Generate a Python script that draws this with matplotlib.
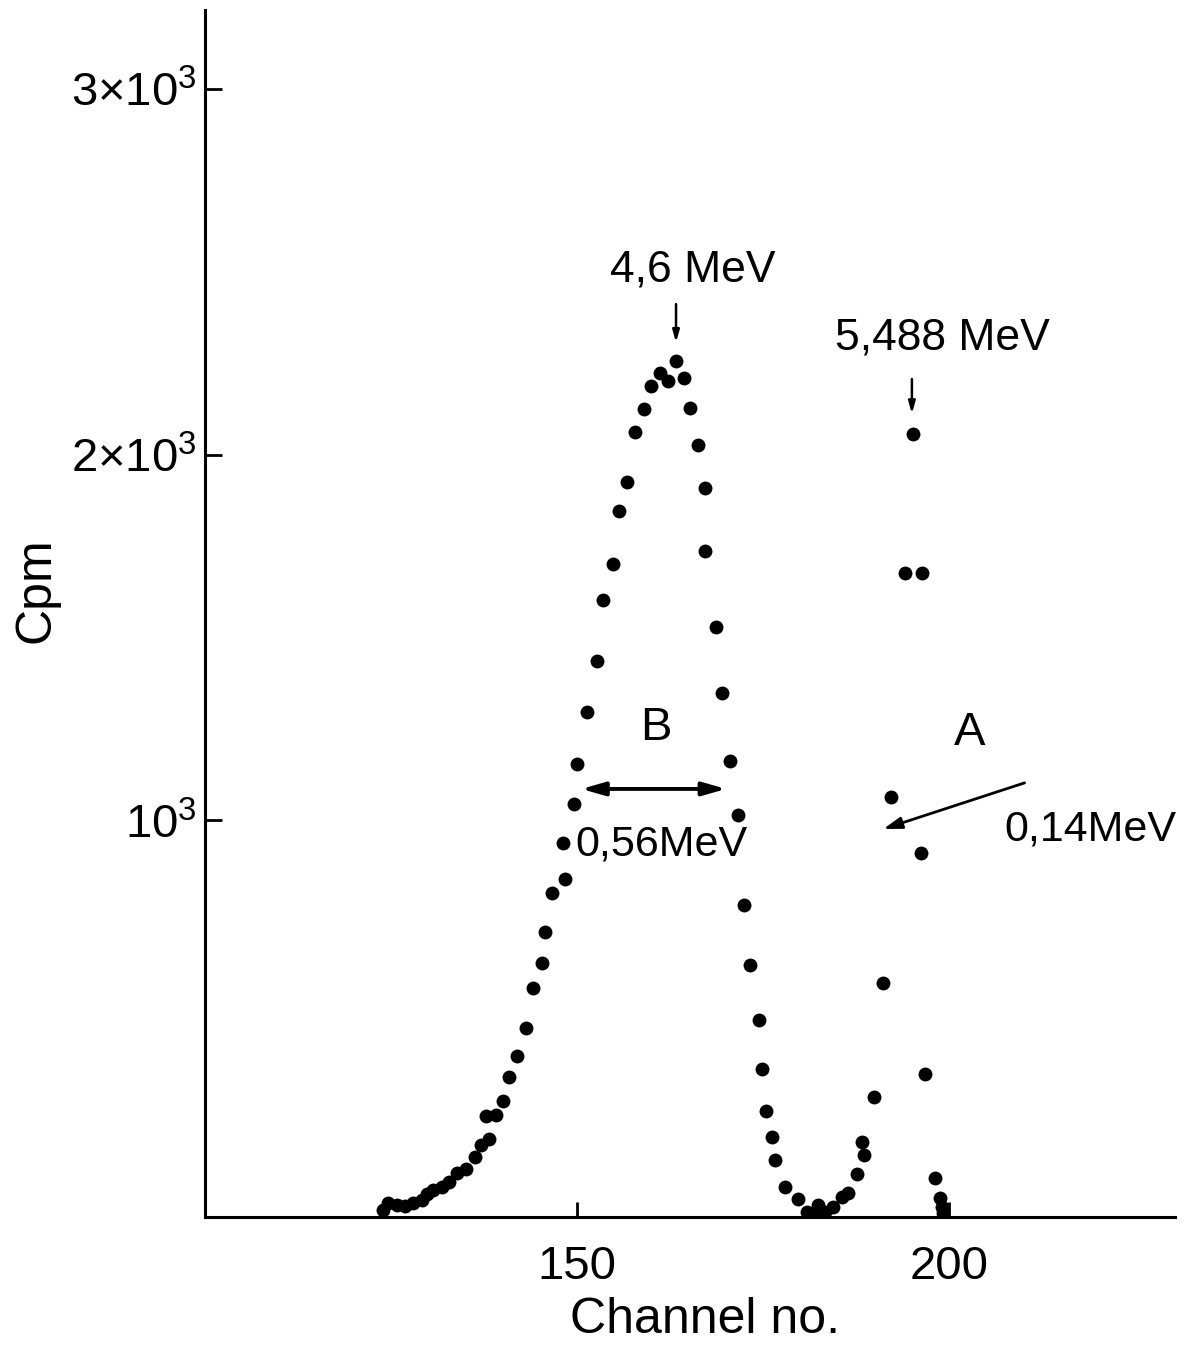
# Alpha spectrum, counts per minute vs channel

import matplotlib
matplotlib.use("Agg")
import matplotlib.pyplot as plt

plt.rcParams["font.family"] = ["Liberation Sans", "DejaVu Sans"]
plt.rcParams["mathtext.fontset"] = "custom"
plt.rcParams["mathtext.rm"] = "Liberation Sans"
plt.rcParams["mathtext.it"] = "Liberation Sans"

# <codecell> data -------------------------------------------------------------
channel = [123.9, 124.6, 125.8, 126.9, 128.0, 129.2, 129.8, 130.6, 131.9, 132.8,
           133.9, 135.1, 136.3, 137.1, 138.2, 137.8, 139.1, 140.1, 140.9, 141.9,
           143.1, 144.1, 145.3, 145.7, 146.6, 148.4, 148.1, 149.6, 150.0, 151.3,
           152.7, 153.5, 154.8, 155.6, 156.7, 157.8, 159.0, 159.9, 161.2, 162.2,
           163.3, 164.4, 165.2, 166.3, 167.2, 167.2, 168.7, 169.5, 170.6, 171.6,
           172.4, 173.3, 174.5, 174.9, 175.4, 176.2, 176.6, 178.0, 179.7, 180.9,
           181.9, 182.4, 183.3, 184.4, 185.6, 186.4, 187.6, 188.3, 188.6, 189.9,
           191.1, 192.2, 194.1, 195.2, 196.4, 196.2, 196.8, 198.1, 198.8, 199.1,
           199.2]
cpm = [-66, -47, -52, -55, -47, -38, -22, -11, -3, 11,
       36, 47, 79, 112, 129, 192, 194, 233, 298, 356,
       432, 542, 610, 695, 802, 840, 938, 1045, 1155, 1297,
       1436, 1603, 1702, 1847, 1926, 2063, 2126, 2189, 2224, 2202,
       2257, 2211, 2129, 2027, 1910, 1737, 1529, 1349, 1163, 1015,
       769, 605, 454, 320, 205, 134, 71, -3, -36, -71,
       -74, -52, -71, -57, -30, -19, 33, 120, 85, 244,
       555, 1064, 1677, 2057, 1677, 911, 306, 22, -33, -57,
       -74]

xticks = [150, 200]
yticks = [1000, 2000, 3000]
ytick_labels = [r"$10^3$", r"$2{\times}10^3$", r"$3{\times}10^3$"]

# <codecell> plot -------------------------------------------------------------
fig = plt.figure(figsize=(11.92, 13.51), dpi=100)
ax = fig.add_axes([0.172, 0.0992, 0.814, 0.8934])

ax.plot(channel, cpm, 'o', color='k', markersize=10, markeredgewidth=0)

ax.set_xlim(100, 230.4)
ax.set_ylim(-85, 3217)
for s in ["top", "right"]:
    ax.spines[s].set_visible(False)
for s in ["left", "bottom"]:
    ax.spines[s].set_linewidth(2.2)

ax.set_xticks(xticks)
ax.set_yticks(yticks)
ax.set_yticklabels(ytick_labels)
ax.tick_params(axis='x', direction='in', length=11, width=2, pad=20, labelsize=34)
ax.tick_params(axis='y', direction='in', length=12, width=2, pad=6, labelsize=34)

ax.set_xlabel("Channel no.", fontsize=36)
ax.xaxis.set_label_coords(0.515, -0.066)
ax.set_ylabel("Cpm", fontsize=36)
ax.yaxis.set_label_coords(-0.15, 0.519)

# peak labels
ax.text(165.5, 2506, "4,6 MeV", fontsize=32, ha='center', va='center')
ax.annotate("", xy=(163.3, 2300), xytext=(163.3, 2420),
            arrowprops=dict(arrowstyle='-|>,head_width=0.2,head_length=0.7', color='k', lw=1.8))
ax.text(199.1, 2320, "5,488 MeV", fontsize=32, ha='center', va='center')
ax.annotate("", xy=(195.0, 2105), xytext=(195.0, 2215),
            arrowprops=dict(arrowstyle='-|>,head_width=0.2,head_length=0.7', color='k', lw=1.8))

# widths
ax.text(160.6, 1253, "B", fontsize=34, ha='center', va='center')
ax.annotate("", xy=(150.2, 1086), xytext=(170.4, 1086),
            arrowprops=dict(arrowstyle='<|-|>,head_width=0.4,head_length=1.4', color='k', lw=2.8))
ax.text(161.4, 933, "0,56MeV", fontsize=31, ha='center', va='center')

ax.text(202.8, 1239, "A", fontsize=34, ha='center', va='center')
ax.annotate("", xy=(190.8, 974), xytext=(210.5, 1105),
            arrowprops=dict(arrowstyle='-|>,head_width=0.35,head_length=1.1', color='k', lw=2))
ax.text(219.0, 974, "0,14MeV", fontsize=31, ha='center', va='center')

plt.savefig("out.png", dpi=100)
